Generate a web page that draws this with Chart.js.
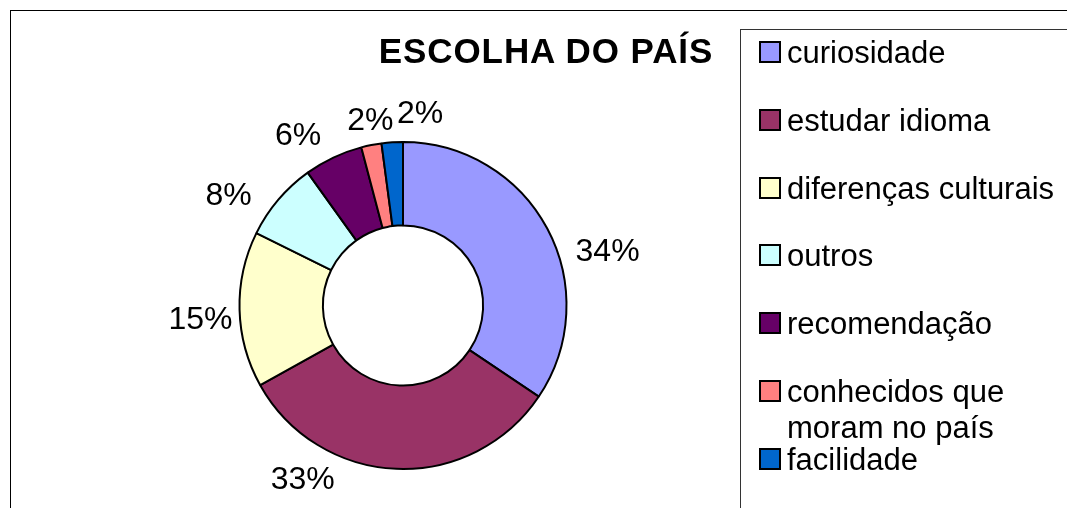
<!DOCTYPE html>
<html>
<head>
<meta charset="utf-8">
<script src="https://cdn.jsdelivr.net/npm/chart.js@4.4.1/dist/chart.umd.min.js"></script>
<style>
  html, body { margin: 0; padding: 0; background: #fff; }
  #page { position: relative; width: 1067px; height: 508px; overflow: hidden; font-family: "Liberation Sans", Arial, sans-serif; }
  #frame { position: absolute; left: 10px; top: 10px; width: 1200px; height: 700px; border: 1px solid #000; }
  #chart-wrap { position: absolute; left: 0; top: 0; width: 740px; height: 508px; }
  #title { position: absolute; left: 346px; top: 33px; width: 400px; text-align: center; font-weight: bold; font-size: 35px; line-height: 35px; letter-spacing: 0.9px; color: #000; }
  #legend { position: absolute; left: 740px; top: 29px; width: 500px; height: 700px; border: 1px solid #333; }
  .lg-row { position: absolute; left: 0; height: 67px; }
  .lg-box { position: absolute; left: 18px; width: 18px; height: 18px; border: 2px solid #000; }
  .lg-text { position: absolute; left: 46px; width: 290px; font-size: 31px; line-height: 36px; color: #000; white-space: nowrap; }
</style>
</head>
<body>
<div id="page">
  <div id="frame"></div>
  <div id="chart-wrap"><canvas id="ch-pais"></canvas></div>
  <div id="title">ESCOLHA DO PAÍS</div>
  <div id="legend"></div>
</div>
<script>
const categorias = ['curiosidade', 'estudar idioma', 'diferenças culturais', 'outros', 'recomendação', 'conhecidos que moram no país', 'facilidade'];
const legendaLinhas = [['curiosidade'], ['estudar idioma'], ['diferenças culturais'], ['outros'], ['recomendação'], ['conhecidos que', 'moram no país'], ['facilidade']];
const percentuais = [34.4, 32.5, 15.4, 7.8, 5.8, 2.0, 2.1];
const cores = ['#9999FF', '#993366', '#FFFFCC', '#CCFFFF', '#660066', '#FF8080', '#0066CC'];

// os rótulos no original foram arrastados à mão; pequeno ajuste por fatia
const ajusteRotulos = [[25, 31], [-92, -11], [1, 8], [-26, 7], [-22, -5], [5, -6], [30, -10]];

const rotulosFora = {
  id: 'rotulosFora',
  afterDatasetsDraw(chart) {
    const { ctx } = chart;
    const meta = chart.getDatasetMeta(0);
    const total = percentuais.reduce((s, v) => s + v, 0);
    ctx.save();
    ctx.font = '32px "Liberation Sans", Arial, sans-serif';
    ctx.fillStyle = '#000';
    ctx.textAlign = 'center';
    ctx.textBaseline = 'middle';
    meta.data.forEach((arc, i) => {
      const { x, y, startAngle, endAngle, outerRadius } = arc.getProps(['x', 'y', 'startAngle', 'endAngle', 'outerRadius'], true);
      const mid = (startAngle + endAngle) / 2;
      const txt = Math.round(percentuais[i] / total * 100) + '%';
      const w = ctx.measureText(txt).width;
      const h = 24;
      const cs = Math.cos(mid), sn = Math.sin(mid);
      const r = outerRadius + 8;
      const [dx, dy] = ajusteRotulos[i] || [0, 0];
      const px = x + r * cs + (w / 2) * cs + dx;
      const py = y + r * sn + (h / 2) * sn + 2 + dy;
      ctx.fillText(txt, px, py);
    });
    ctx.restore();
  }
};

const chart = new Chart(document.getElementById('ch-pais'), {
  type: 'doughnut',
  data: {
    labels: categorias,
    datasets: [{
      data: percentuais,
      backgroundColor: cores,
      borderColor: '#000',
      borderWidth: 2,
      hoverOffset: 0,
      offset: 0,
    }],
  },
  options: {
    responsive: true,
    maintainAspectRatio: false,
    animation: false,
    cutout: '49%',
    layout: { padding: { top: 141, bottom: 38, left: 200, right: 134 } },
    plugins: { legend: { display: false }, title: { display: false }, tooltip: { enabled: false } },
  },
  plugins: [rotulosFora],
});

// legenda em HTML, a partir das mesmas listas
const leg = document.getElementById('legend');
legendaLinhas.forEach((linhas, i) => {
  const row = document.createElement('div');
  row.className = 'lg-row';
  const yc = 51 + 67.75 * i - 29;
  row.style.top = yc + 'px';
  const box = document.createElement('div');
  box.className = 'lg-box';
  box.style.top = '-11px';
  box.style.background = cores[i];
  const t = document.createElement('div');
  t.className = 'lg-text';
  t.style.top = '-17px';
  t.innerHTML = linhas.join('<br>');
  row.appendChild(box);
  row.appendChild(t);
  leg.appendChild(row);
});
</script>
</body>
</html>
